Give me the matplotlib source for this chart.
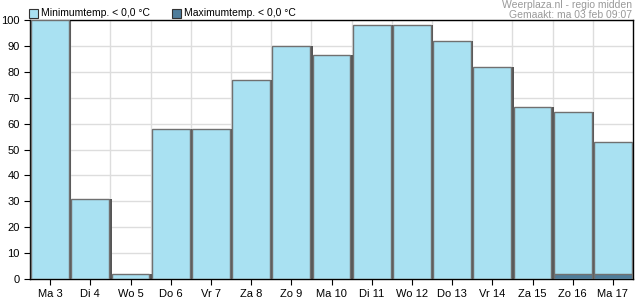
import matplotlib
matplotlib.use("Agg")
import matplotlib.pyplot as plt
import numpy as np
from matplotlib.patches import Rectangle

plt.rcParams['font.family'] = ['Liberation Sans', 'DejaVu Sans']

# data
dagen = ["Ma 3", "Di 4", "Wo 5", "Do 6", "Vr 7", "Za 8", "Zo 9", "Ma 10",
         "Di 11", "Wo 12", "Do 13", "Vr 14", "Za 15", "Zo 16", "Ma 17"]
min_temp = [100, 31, 2, 58, 58, 77, 90, 86.5, 98, 98, 92, 82, 66.5, 64.5, 53]
max_temp = [0, 0, 0, 0, 0, 0, 0, 0, 0, 0, 0, 0, 0, 2, 2]

col_min = "#a9e1f2"
col_max = "#4f7d9b"

fig = plt.figure(figsize=(6.35, 3.0), dpi=100)
ax = fig.add_axes([30/635, 21/300, 603/635, 259/300])

x = np.arange(len(dagen))
# shadow on the right side of each bar
ax.bar(x + 0.06, min_temp, width=0.94, color="#555555", zorder=2)
ax.bar(x, min_temp, width=0.94, color=col_min, edgecolor="#707070", linewidth=1, zorder=3)
ax.bar(x, max_temp, width=0.94, color=col_max, edgecolor="#707070", linewidth=1, zorder=4)

ax.set_xlim(-0.5, len(dagen) - 0.5)
ax.set_ylim(0, 100)
ax.set_yticks(range(0, 101, 10))
ax.set_xticks(x)
ax.set_xticklabels(dagen)
# vertical gridlines between the days
ax.set_xticks(x[:-1] + 0.5, minor=True)
ax.grid(axis="y", color="#dddddd", linewidth=1, zorder=0)
ax.grid(axis="x", which="minor", color="#dddddd", linewidth=1, zorder=0)
ax.tick_params(axis="both", labelsize=8, length=4, color="black")
ax.tick_params(axis="x", which="minor", length=0)
for s in ax.spines.values():
    s.set_color("black")
    s.set_linewidth(1)

# legend
fig.patches.append(Rectangle((29/635, 1 - 18/300), 9/635, 9/300, transform=fig.transFigure,
                             facecolor=col_min, edgecolor="#333333", linewidth=0.8))
fig.text(41/635, 1 - 13/300, "Minimumtemp. < 0,0 °C", fontsize=7.5, va="center")
fig.patches.append(Rectangle((172/635, 1 - 18/300), 9/635, 9/300, transform=fig.transFigure,
                             facecolor=col_max, edgecolor="#333333", linewidth=0.8))
fig.text(184/635, 1 - 13/300, "Maximumtemp. < 0,0 °C", fontsize=7.5, va="center")

fig.text(632/635, 1 - 5/300, "Weerplaza.nl - regio midden", fontsize=7.5,
         color="#999999", ha="right", va="center")
fig.text(632/635, 1 - 15/300, "Gemaakt: ma 03 feb 09:07", fontsize=7.5,
         color="#999999", ha="right", va="center")

fig.savefig("out.png", dpi=100)
